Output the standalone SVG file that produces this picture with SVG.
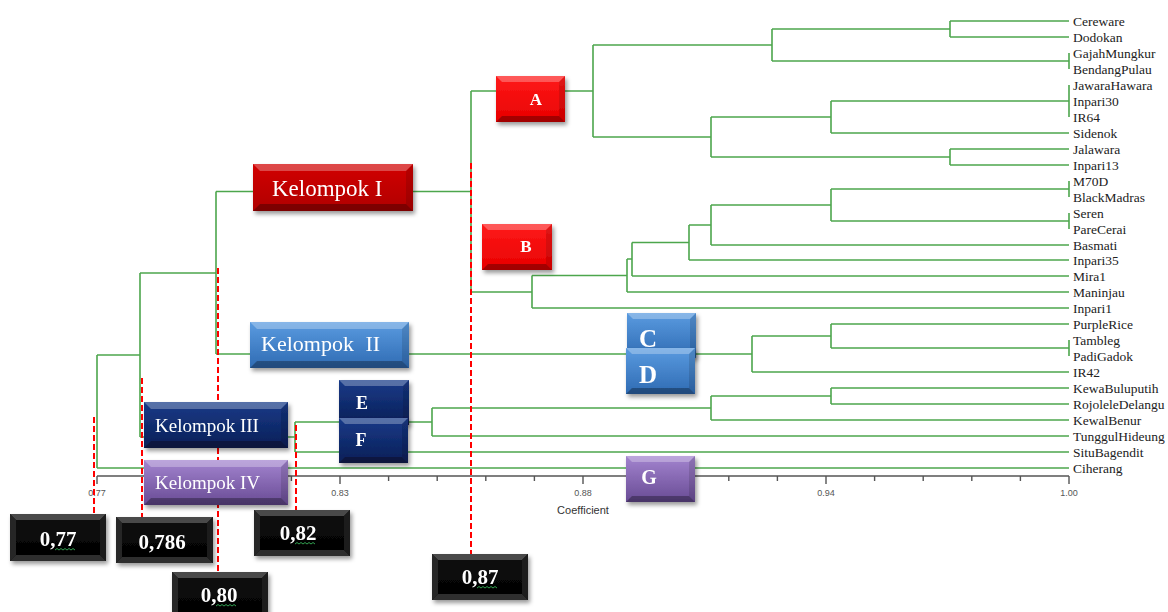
<svg xmlns="http://www.w3.org/2000/svg" width="1168" height="612" viewBox="0 0 1168 612">
<style>
.g{fill:none;stroke:#4da64d;stroke-width:1.6}
.rd{fill:none;stroke:#ff0000;stroke-width:2;stroke-dasharray:6 3}
.leaf{font-family:"Liberation Serif",serif;font-size:13.5px;fill:#222}
.ax{font-family:"Liberation Sans",sans-serif;font-size:9px;fill:#555}
.axl{fill:none;stroke:#555;stroke-width:1.4}
.bt{fill:#fff;fill-opacity:.28}
.bb{fill:#000;fill-opacity:.3}
.bs{fill:#000;fill-opacity:.12}
.kt{font-family:"Liberation Serif",serif;fill:#fff}
.lt{font-family:"Liberation Serif",serif;fill:#fff;font-weight:bold;text-anchor:middle}
.sq{fill:none;stroke:#2e9e4e;stroke-width:1}
.kt2{fill:#4a4a4a}
.kl{fill:#262626}
.kr{fill:#1c1c1c}
.kb{fill:#2e2e2e}
</style>
<defs>
<filter id="sh" x="-20%" y="-20%" width="140%" height="150%"><feDropShadow dx="2" dy="3" stdDeviation="2" flood-color="#000" flood-opacity=".4"/></filter>
<linearGradient id="gRed" x1="0" y1="0" x2="0" y2="1"><stop offset="0" stop-color="#ff1a1a"/><stop offset="1" stop-color="#e80000"/></linearGradient>
<linearGradient id="gDRed" x1="0" y1="0" x2="0" y2="1"><stop offset="0" stop-color="#d20000"/><stop offset="1" stop-color="#b00000"/></linearGradient>
<linearGradient id="gBlue" x1="0" y1="0" x2="0" y2="1"><stop offset="0" stop-color="#5a9be0"/><stop offset="1" stop-color="#2f6bb3"/></linearGradient>
<linearGradient id="gNavy" x1="0" y1="0" x2="0" y2="1"><stop offset="0" stop-color="#173a88"/><stop offset="1" stop-color="#0b1f57"/></linearGradient>
<linearGradient id="gPur" x1="0" y1="0" x2="0" y2="1"><stop offset="0" stop-color="#a384cf"/><stop offset="1" stop-color="#684b94"/></linearGradient>
<linearGradient id="gBlk" x1="0" y1="0" x2="0" y2="1"><stop offset="0" stop-color="#101010"/><stop offset="1" stop-color="#000"/></linearGradient>
</defs>
<rect width="1168" height="612" fill="#fff"/>

<g id="connectors">
<path class="g" d="M950,21H1069M950,37H1069M950,21V37"/>
<path class="g" d="M1069,53V69M772,61H1069"/>
<path class="g" d="M772,29H950M772,61V29"/>
<path class="g" d="M1069,85V117M831,101H1069"/>
<path class="g" d="M831,133H1069M831,101V133"/>
<path class="g" d="M950,149H1069M950,165H1069M950,149V165"/>
<path class="g" d="M711,117H831M711,157H950M711,117V157"/>
<path class="g" d="M593,45H772M593,137H711M593,45V137"/>
<path class="g" d="M471,91H593"/>
<path class="g" d="M1069,181V197M831,189H1069"/>
<path class="g" d="M1069,213V229M831,221H1069"/>
<path class="g" d="M831,189V221M711,205H831"/>
<path class="g" d="M711,205V245M711,245H1069M689,225H711"/>
<path class="g" d="M689,225V260M689,260H1069M632,242.5H689"/>
<path class="g" d="M632,242.5V276M632,276H1069M627,259H632"/>
<path class="g" d="M627,259V292M627,292H1069M532,275.5H627"/>
<path class="g" d="M532,275.5V308M532,308H1069M471,292H532"/>
<path class="g" d="M471,91V292M216,191.5H471"/>
<path class="g" d="M1069,340V356M831,348H1069"/>
<path class="g" d="M831,324H1069M831,324V348M752,336H831"/>
<path class="g" d="M752,336V372M752,372H1069M216,354H752"/>
<path class="g" d="M216,191.5V354M140,273H216"/>
<path class="g" d="M831,388H1069M831,404H1069M831,388V404"/>
<path class="g" d="M711,396H831M711,420H1069M711,396V420"/>
<path class="g" d="M432,408H711M432,436H1069M432,408V436"/>
<path class="g" d="M295,422H432M295,452H1069M295,422V452"/>
<path class="g" d="M140,437H295M140,273V437M97,355H140"/>
<path class="g" d="M97,355V468M97,468H1069"/>
</g>

<g id="leaf-labels" class="leaf">
<text x="1073" y="25.5">Cereware</text>
<text x="1073" y="41.5">Dodokan</text>
<text x="1073" y="57.5">GajahMungkur</text>
<text x="1073" y="73.5">BendangPulau</text>
<text x="1073" y="89.5">JawaraHawara</text>
<text x="1073" y="105.5">Inpari30</text>
<text x="1073" y="121.5">IR64</text>
<text x="1073" y="137.5">Sidenok</text>
<text x="1073" y="153.5">Jalawara</text>
<text x="1073" y="169.5">Inpari13</text>
<text x="1073" y="185.5">M70D</text>
<text x="1073" y="201.5">BlackMadras</text>
<text x="1073" y="217.5">Seren</text>
<text x="1073" y="233.5">PareCerai</text>
<text x="1073" y="249.5">Basmati</text>
<text x="1073" y="264.5">Inpari35</text>
<text x="1073" y="280.5">Mira1</text>
<text x="1073" y="296.5">Maninjau</text>
<text x="1073" y="312.5">Inpari1</text>
<text x="1073" y="328.5">PurpleRice</text>
<text x="1073" y="344.5">Tambleg</text>
<text x="1073" y="360.5">PadiGadok</text>
<text x="1073" y="376.5">IR42</text>
<text x="1073" y="392.5">KewaBuluputih</text>
<text x="1073" y="408.5">RojoleleDelangu</text>
<text x="1073" y="424.5">KewalBenur</text>
<text x="1073" y="440.5">TunggulHideung</text>
<text x="1073" y="456.5">SituBagendit</text>
<text x="1073" y="472.5">Ciherang</text>
</g>

<g id="axis">
<path class="axl" d="M97,476H1069"/>
<path class="axl" d="M97,476v8M145.6,476v5M194.2,476v5M242.8,476v5M291.4,476v5M340,476v8M388.6,476v5M437.2,476v5M485.8,476v5M534.4,476v5M583,476v8M631.6,476v5M680.2,476v5M728.8,476v5M777.4,476v5M826,476v8M874.6,476v5M923.2,476v5M971.8,476v5M1020.4,476v5M1069,476v8"/>
<text class="ax" x="97" y="496" text-anchor="middle">0.77</text>
<text class="ax" x="340" y="496" text-anchor="middle">0.83</text>
<text class="ax" x="583" y="496" text-anchor="middle">0.88</text>
<text class="ax" x="826" y="496" text-anchor="middle">0.94</text>
<text class="ax" x="1069" y="496" text-anchor="middle">1.00</text>
<text x="583" y="514" text-anchor="middle" font-family="Liberation Sans, sans-serif" font-size="11" fill="#333">Coefficient</text>
</g>

<g id="cut-lines">
<path class="rd" d="M471,163V554"/>
<path class="rd" d="M218,268V572"/>
<path class="rd" d="M142,378V517"/>
<path class="rd" d="M94,417V514"/>
<path class="rd" d="M296,425V510"/>
</g>

<g id="node-A" filter="url(#sh)">
<rect x="496" y="76" width="69" height="46" fill="url(#gRed)"/>
<polygon class="bt" points="496,76 565,76 559,82 502,82"/>
<polygon class="bb" points="496,122 565,122 559,116 502,116"/>
<polygon class="bs" points="565,76 565,122 559,116 559,82"/>
<text class="lt" x="536" y="105" font-size="17">A</text>
</g>
<g id="node-B" filter="url(#sh)">
<rect x="482" y="224" width="70" height="46" fill="url(#gRed)"/>
<polygon class="bt" points="482,224 552,224 546,230 488,230"/>
<polygon class="bb" points="482,270 552,270 546,264 488,264"/>
<polygon class="bs" points="552,224 552,270 546,264 546,230"/>
<text class="lt" x="526" y="252" font-size="17">B</text>
</g>
<g id="node-kelompok-I" filter="url(#sh)">
<rect x="253" y="164" width="160" height="47" fill="url(#gDRed)"/>
<polygon class="bt" points="253,164 413,164 406,171 260,171"/>
<polygon class="bb" points="253,211 413,211 406,204 260,204"/>
<polygon class="bs" points="413,164 413,211 406,204 406,171"/>
<text class="kt" x="272" y="196" font-size="23">Kelompok I</text>
</g>
<g id="node-kelompok-II" filter="url(#sh)">
<rect x="250" y="322" width="159" height="46" fill="url(#gBlue)"/>
<polygon class="bt" points="250,322 409,322 402,329 257,329"/>
<polygon class="bb" points="250,368 409,368 402,361 257,361"/>
<polygon class="bs" points="409,322 409,368 402,361 402,329"/>
<text class="kt" x="261" y="351" font-size="22" word-spacing="6">Kelompok II</text>
</g>
<g id="node-C" filter="url(#sh)">
<rect x="627" y="313" width="69" height="45" fill="url(#gBlue)"/>
<polygon class="bt" points="627,313 696,313 690,319 633,319"/>
<polygon class="bs" points="696,313 696,358 690,352 690,319"/>
<text class="lt" x="648" y="347" font-size="25">C</text>
</g>
<g id="node-D" filter="url(#sh)">
<rect x="626" y="348" width="69" height="46" fill="url(#gBlue)"/>
<polygon class="bt" points="626,348 695,348 689,354 632,354"/>
<polygon class="bb" points="626,394 695,394 689,388 632,388"/>
<polygon class="bs" points="695,348 695,394 689,388 689,354"/>
<text class="lt" x="648" y="383" font-size="25">D</text>
</g>
<g id="node-E" filter="url(#sh)">
<rect x="339" y="380" width="70" height="45" fill="url(#gNavy)"/>
<polygon class="bt" points="339,380 409,380 403,386 345,386"/>
<polygon class="bs" points="409,380 409,425 403,419 403,386"/>
<text class="lt" x="362" y="409" font-size="18">E</text>
</g>
<g id="node-F" filter="url(#sh)">
<rect x="339" y="418" width="69" height="45" fill="url(#gNavy)"/>
<polygon class="bt" points="339,418 408,418 402,424 345,424"/>
<polygon class="bb" points="339,463 408,463 402,457 345,457"/>
<polygon class="bs" points="408,418 408,463 402,457 402,424"/>
<text class="lt" x="361" y="446" font-size="18">F</text>
</g>
<g id="node-kelompok-III" filter="url(#sh)">
<rect x="144" y="402" width="144" height="46" fill="url(#gNavy)"/>
<polygon class="bt" points="144,402 288,402 281,409 151,409"/>
<polygon class="bb" points="144,448 288,448 281,441 151,441"/>
<polygon class="bs" points="288,402 288,448 281,441 281,409"/>
<text class="kt" x="155" y="432" font-size="19">Kelompok III</text>
</g>
<g id="node-kelompok-IV" filter="url(#sh)">
<rect x="144" y="460" width="144" height="45" fill="url(#gPur)"/>
<polygon class="bt" points="144,460 288,460 281,467 151,467"/>
<polygon class="bb" points="144,505 288,505 281,498 151,498"/>
<polygon class="bs" points="288,460 288,505 281,498 281,467"/>
<text class="kt" x="155" y="489" font-size="19">Kelompok IV</text>
</g>
<g id="node-G" filter="url(#sh)">
<rect x="626" y="456" width="69" height="46" fill="url(#gPur)"/>
<polygon class="bt" points="626,456 695,456 689,462 632,462"/>
<polygon class="bb" points="626,502 695,502 689,496 632,496"/>
<polygon class="bs" points="695,456 695,502 689,496 689,462"/>
<text class="lt" x="649" y="484" font-size="20">G</text>
</g>

<g id="value-077" filter="url(#sh)">
<rect x="10" y="514" width="96" height="47" fill="url(#gBlk)"/>
<polygon class="kt2" points="10,514 106,514 100,520 16,520"/>
<polygon class="kl" points="10,514 16,520 16,555 10,561"/>
<polygon class="kr" points="106,514 106,561 100,555 100,520"/>
<polygon class="kb" points="10,561 106,561 100,555 16,555"/>
<text class="lt" x="58" y="546" font-size="21">0,77</text>
<path class="sq" d="M55,550l2,-1.5l2,1.5l2,-1.5l2,1.5l2,-1.5l2,1.5l2,-1.5l2,1.5l2,-1.5l2,1.5"/>
</g>
<g id="value-0786" filter="url(#sh)">
<rect x="116" y="517" width="97" height="46" fill="url(#gBlk)"/>
<polygon class="kt2" points="116,517 213,517 207,523 122,523"/>
<polygon class="kl" points="116,517 122,523 122,557 116,563"/>
<polygon class="kr" points="213,517 213,563 207,557 207,523"/>
<polygon class="kb" points="116,563 213,563 207,557 122,557"/>
<text class="lt" x="162" y="549" font-size="21">0,786</text>
</g>
<g id="value-082" filter="url(#sh)">
<rect x="254" y="510" width="96" height="46" fill="url(#gBlk)"/>
<polygon class="kt2" points="254,510 350,510 344,516 260,516"/>
<polygon class="kl" points="254,510 260,516 260,550 254,556"/>
<polygon class="kr" points="350,510 350,556 344,550 344,516"/>
<polygon class="kb" points="254,556 350,556 344,550 260,550"/>
<text class="lt" x="298" y="540" font-size="21">0,82</text>
<path class="sq" d="M295,544l2,-1.5l2,1.5l2,-1.5l2,1.5l2,-1.5l2,1.5l2,-1.5l2,1.5l2,-1.5l2,1.5"/>
</g>
<g id="value-080" filter="url(#sh)">
<rect x="172" y="572" width="96" height="46" fill="url(#gBlk)"/>
<polygon class="kt2" points="172,572 268,572 262,578 178,578"/>
<polygon class="kl" points="172,572 178,578 178,612 172,618"/>
<polygon class="kr" points="268,572 268,618 262,612 262,578"/>
<text class="lt" x="219" y="602" font-size="21">0,80</text>
<path class="sq" d="M216,606l2,-1.5l2,1.5l2,-1.5l2,1.5l2,-1.5l2,1.5l2,-1.5l2,1.5l2,-1.5l2,1.5"/>
</g>
<g id="value-087" filter="url(#sh)">
<rect x="432" y="554" width="96" height="46" fill="url(#gBlk)"/>
<polygon class="kt2" points="432,554 528,554 522,560 438,560"/>
<polygon class="kl" points="432,554 438,560 438,594 432,600"/>
<polygon class="kr" points="528,554 528,600 522,594 522,560"/>
<polygon class="kb" points="432,600 528,600 522,594 438,594"/>
<text class="lt" x="480" y="584" font-size="21">0,87</text>
<path class="sq" d="M477,588l2,-1.5l2,1.5l2,-1.5l2,1.5l2,-1.5l2,1.5l2,-1.5l2,1.5l2,-1.5l2,1.5"/>
</g>
</svg>
